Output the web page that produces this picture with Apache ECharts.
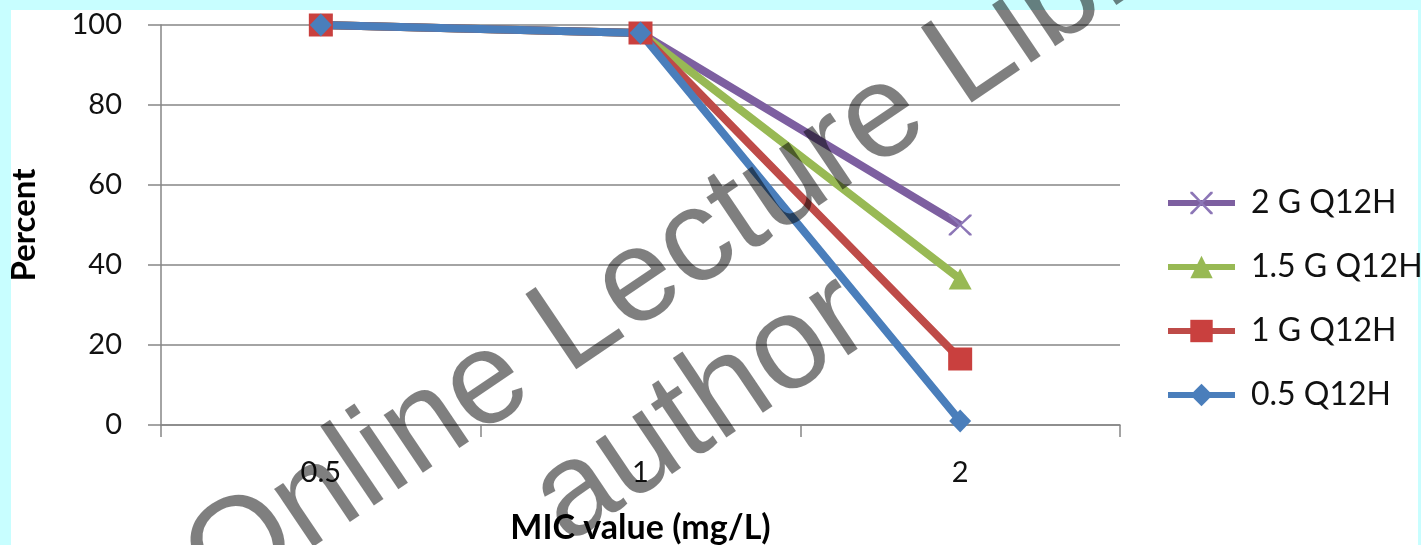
<!DOCTYPE html>
<html>
<head>
<meta charset="utf-8">
<script src="https://cdn.jsdelivr.net/npm/echarts@6/dist/echarts.min.js"></script>
<style>
  html, body { margin: 0; padding: 0; background: #C8FEFF; overflow: hidden; }
  #panel { position: absolute; left: 11px; top: 10px; width: 1407px; height: 535px; background: #ffffff; }
  #chart { position: absolute; left: 0; top: 0; width: 1421px; height: 545px; }
</style>
</head>
<body>
<div id="panel"></div>
<div id="chart"></div>
<script>
const categories = ['0.5', '1', '2'];
const seriesNames = ['2 G Q12H', '1.5 G Q12H', '1 G Q12H', '0.5 Q12H'];
const values2G = [100, 98, 50];
const values15G = [100, 98, 36.5];
const values1G = [100, 98, 16.5];
const values05 = [100, 98, 1];
const yTicks = [0, 20, 40, 60, 80, 100];

const FONT = 'Lato, "Open Sans", sans-serif';
const AX = '#868686';
const xPath = 'path://M0,0 L2,0 L10,8.5 L18,0 L20,0 L20,1.5 L11.3,10 L20,18.5 L20,20 L18,20 L10,11.5 L2,20 L0,20 L0,18.5 L8.7,10 L0,1.5 Z';

function mk(name, data, color, markColor, symbol, size) {
  return {
    name: name, type: 'line', data: data,
    symbol: symbol, symbolSize: size,
    lineStyle: { color: color, width: 8 },
    itemStyle: { color: markColor },
    emphasis: { disabled: true },
    animation: false
  };
}

// watermark baselines (decoration)
const th = 34 * Math.PI / 180;
function wm(text, bx, by) {
  const off = 46;
  return {
    type: 'text', x: bx - off * Math.sin(th), y: by - off * Math.cos(th), rotation: th, z: 100,
    silent: true,
    style: { text: text, font: '132px "Liberation Sans", Arial, sans-serif', fill: 'rgba(0,0,0,0.5)', align: 'left', verticalAlign: 'middle' }
  };
}

const chart = echarts.init(document.getElementById('chart'), null, { renderer: 'canvas' });
chart.setOption({
  backgroundColor: 'transparent',
  animation: false,
  grid: { left: 161, right: 301, top: 25, bottom: 120, containLabel: false, outerBoundsMode: 'none' },
  legend: {
    orient: 'vertical', left: 1160, top: 182,
    itemWidth: 67, itemHeight: 28, itemGap: 32,
    data: seriesNames,
    lineStyle: { width: 6 },
    textStyle: { fontFamily: FONT, fontSize: 32, color: '#111', lineHeight: 28, padding: [0, 0, 0, 11] },
    selectedMode: false
  },
  xAxis: {
    type: 'category', data: categories, boundaryGap: true,
    axisLine: { lineStyle: { color: AX, width: 1.5 } },
    axisTick: { show: true, length: 12, lineStyle: { color: AX, width: 1.5 } },
    axisLabel: { fontFamily: FONT, fontSize: 29, color: '#111', margin: 33 },
    name: 'MIC value (mg/L)', nameLocation: 'middle', nameGap: 86,
    nameTextStyle: { fontFamily: FONT, fontSize: 34, fontWeight: 'bold', color: '#000' }
  },
  yAxis: {
    type: 'value', min: 0, max: 100, interval: 20,
    axisLine: { show: true, lineStyle: { color: AX, width: 1.5 } },
    axisTick: { show: true, length: 13, lineStyle: { color: AX, width: 1.5 } },
    splitLine: { show: true, lineStyle: { color: AX, width: 1.5 } },
    axisLabel: { fontFamily: FONT, fontSize: 29, color: '#111', margin: 39,
      customValues: yTicks },
    name: 'Percent', nameLocation: 'middle', nameGap: 120, nameRotate: 90,
    nameTextStyle: { fontFamily: FONT, fontSize: 33, fontWeight: 'bold', color: '#000' }
  },
  series: [
    mk(seriesNames[0], values2G, '#7D5FA0', '#8C76B6', xPath, [23, 21]),
    mk(seriesNames[1], values15G, '#98B954', '#98B954', 'triangle', [23, 21]),
    mk(seriesNames[2], values1G, '#BE4B48', '#C9403E', 'rect', [24, 23]),
    mk(seriesNames[3], values05, '#4A7EBB', '#4A7EBB', 'diamond', [22, 23])
  ],
  graphic: [
    wm('Online Lecture Library', 226, 617),
    wm('author', 572, 553)
  ]
});
</script>
</body>
</html>
